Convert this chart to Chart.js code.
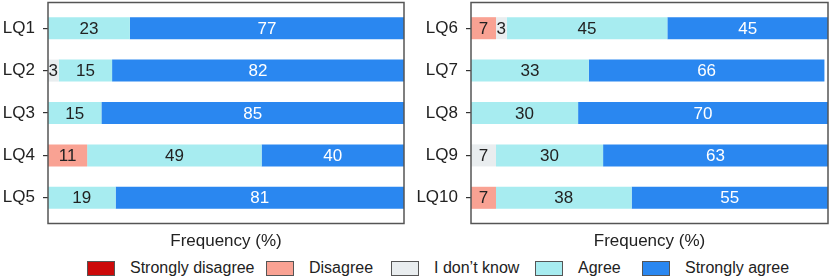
<!DOCTYPE html>
<html>
<head>
<meta charset="utf-8">
<script src="https://cdn.jsdelivr.net/npm/chart.js@4.4.1/dist/chart.umd.min.js"></script>
<style>
  body{margin:0;background:#fff;font-family:"Liberation Sans",Arial,sans-serif;}
  #wrap{position:relative;width:830px;height:278px;}
  .panel{position:absolute;top:0;height:252px;}
  #left{left:0;width:410px;}
  #right{left:410px;width:420px;}
  .leg{position:absolute;top:259px;display:flex;align-items:center;font-size:16px;color:#222;white-space:nowrap;}
  .leg span.box{display:inline-block;width:26px;height:13px;border:1px solid #555;margin-right:15px;}
</style>
</head>
<body>
<div id="wrap">
  <div class="panel" id="left"><canvas id="c1"></canvas></div>
  <div class="panel" id="right"><canvas id="c2"></canvas></div>
  <div class="leg" style="left:87px"><span class="box" style="background:#cc0a0a"></span>Strongly disagree</div>
  <div class="leg" style="left:266px"><span class="box" style="background:#f9a293"></span>Disagree</div>
  <div class="leg" style="left:391px"><span class="box" style="background:#e9edef"></span>I don’t know</div>
  <div class="leg" style="left:535px"><span class="box" style="background:#a7ecf0"></span>Agree</div>
  <div class="leg" style="left:642px"><span class="box" style="background:#2a87f0"></span>Strongly agree</div>
</div>
<script>
// response categories and colours
const responses = ['Strongly disagree','Disagree','I don’t know','Agree','Strongly agree'];
const colors = ['#cc0a0a','#f9a293','#e9edef','#a7ecf0','#2a87f0'];

// left panel
const qLeft = ['LQ1','LQ2','LQ3','LQ4','LQ5'];
const sdLeft = [0,0,0,0,0];
const dLeft = [0,0,0,11,0];
const dkLeft = [0,3,0,0,0];
const aLeft = [23,15,15,49,19];
const saLeft = [77,82,85,40,81];

// right panel
const qRight = ['LQ6','LQ7','LQ8','LQ9','LQ10'];
const sdRight = [0,0,0,0,0];
const dRight = [7,0,0,0,7];
const dkRight = [3,0,0,7,0];
const aRight = [45,33,30,30,38];
const saRight = [45,66,70,63,55];

const FONT = '"Liberation Sans", Arial, sans-serif';
const MARGIN = 4.5; // frame sits a bit outside the category band

// draws the number in the middle of each segment
const valueLabels = {
  id:'valueLabels',
  afterDatasetsDraw(chart){
    const ctx = chart.ctx;
    ctx.save();
    ctx.font = '17px ' + FONT;
    ctx.textAlign = 'center';
    ctx.textBaseline = 'middle';
    chart.data.datasets.forEach((ds, i) => {
      chart.getDatasetMeta(i).data.forEach((bar, j) => {
        const v = ds.data[j];
        if (!v) return;
        const p = bar.getCenterPoint();
        ctx.fillStyle = i === 4 ? '#fff' : '#222';
        ctx.fillText(String(v), p.x, p.y + 1);
      });
    });
    ctx.restore();
  }
};

// full frame round the plot area
const frame = {
  id:'frame',
  afterDraw(chart){
    const a = chart.chartArea, ctx = chart.ctx;
    ctx.save();
    ctx.strokeStyle = '#555';
    ctx.lineWidth = 1.5;
    ctx.strokeRect(a.left, a.top - MARGIN, a.right - a.left, a.bottom - a.top + 2 * MARGIN);
    ctx.restore();
  }
};

function makePanel(id, labels, series, yWidth, padRight){
  const datasets = series.map((data, i) => ({
    label: responses[i], data, backgroundColor: colors[i],
    borderWidth: 0, barPercentage: 0.52, categoryPercentage: 1
  }));
  return new Chart(document.getElementById(id), {
    type:'bar',
    data:{labels, datasets},
    options:{
      indexAxis:'y', responsive:true, maintainAspectRatio:false, animation:false,
      layout:{padding:{top:7, right:padRight, left:0, bottom:0}},
      plugins:{legend:{display:false}, tooltip:{enabled:false}},
      scales:{
        x:{stacked:true, min:0, max:100,
          ticks:{display:false}, grid:{display:false}, border:{display:false},
          title:{display:true, text:'Frequency (%)', color:'#222', font:{family:FONT, size:17}, padding:{top:4, bottom:0}},
          afterFit(s){ s.height = 33; s.paddingLeft = 0; s.paddingRight = 0; }},
        y:{stacked:true,
          ticks:{color:'#222', font:{family:FONT, size:17}, padding:8},
          grid:{display:true, offset:false, drawOnChartArea:false, drawTicks:true, tickLength:5, color:'#333', lineWidth:1.2},
          border:{display:false},
          afterFit(s){ s.width = yWidth; s.paddingTop = 0; s.paddingBottom = 0; }}
      }
    },
    plugins:[valueLabels, frame]
  });
}

makePanel('c1', qLeft, [sdLeft, dLeft, dkLeft, aLeft, saLeft], 48, 6);
makePanel('c2', qRight, [sdRight, dRight, dkRight, aRight, saRight], 61, 2);
</script>
</body>
</html>
